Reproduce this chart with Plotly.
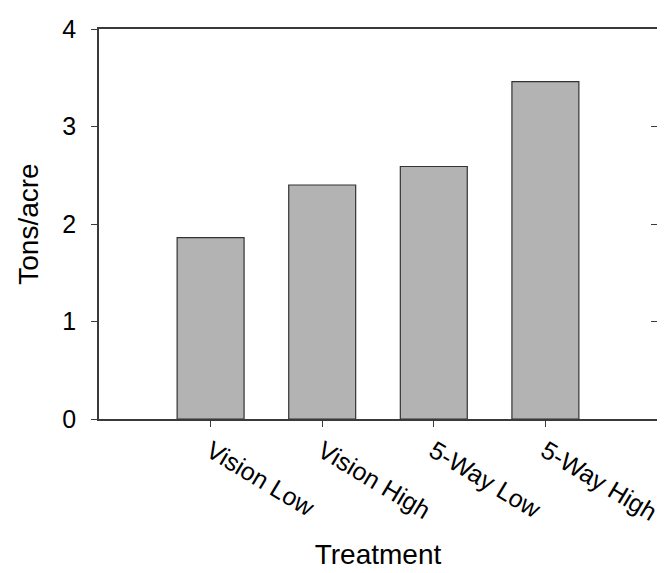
import plotly.graph_objects as go

categories = ["Vision Low", "Vision High", "5-Way Low", "5-Way High"]
tons_per_acre = [1.86, 2.40, 2.59, 3.46]
y_ticks = [0, 1, 2, 3, 4]

FONT = "Liberation Sans, Arial, sans-serif"
AX = "#3a3a3a"

fig = go.Figure()
fig.add_trace(go.Bar(
    x=categories, y=tons_per_acre, width=0.6,
    marker=dict(color="#b3b3b3", line=dict(color="#333333", width=1.2)),
))
# invisible trace to create the right-hand axis with inward ticks
fig.add_trace(go.Scatter(x=categories, y=tons_per_acre, yaxis="y2",
                         mode="markers", marker=dict(opacity=0), hoverinfo="skip",
                         showlegend=False))

fig.update_layout(
    width=665, height=573,
    margin=dict(l=91, r=16, t=21, b=162, autoexpand=False),
    plot_bgcolor="white", paper_bgcolor="white",
    showlegend=False, bargap=0.4,
    font=dict(family=FONT, color="black"),
    xaxis=dict(
        type="category", range=[-1, 4],
        showline=True, linecolor=AX, linewidth=1.5, mirror=True,
        ticks="outside", ticklen=6, tickcolor=AX, tickwidth=1.2,
        tickangle=31, tickfont=dict(size=25, family=FONT),
        showgrid=False, zeroline=False,
        title=dict(text="Treatment", font=dict(size=28, family=FONT), standoff=19),
        automargin=False,
    ),
    yaxis=dict(
        range=[0, 4], tickvals=y_ticks,
        showline=True, linecolor=AX, linewidth=1.5, mirror=True,
        ticks="outside", ticklen=6, tickcolor=AX, tickwidth=1.2,
        tickfont=dict(size=25, family=FONT), ticklabelstandoff=10,
        showgrid=False, zeroline=False,
        title=dict(text="Tons/acre", font=dict(size=28, family=FONT), standoff=16),
        automargin=False,
    ),
    yaxis2=dict(
        overlaying="y", side="right", range=[0, 4], tickvals=[1, 2, 3],
        ticks="inside", ticklen=6, tickcolor=AX, tickwidth=1.2,
        showticklabels=False, showgrid=False, zeroline=False, showline=False,
    ),
)

fig.write_html("out.html")
